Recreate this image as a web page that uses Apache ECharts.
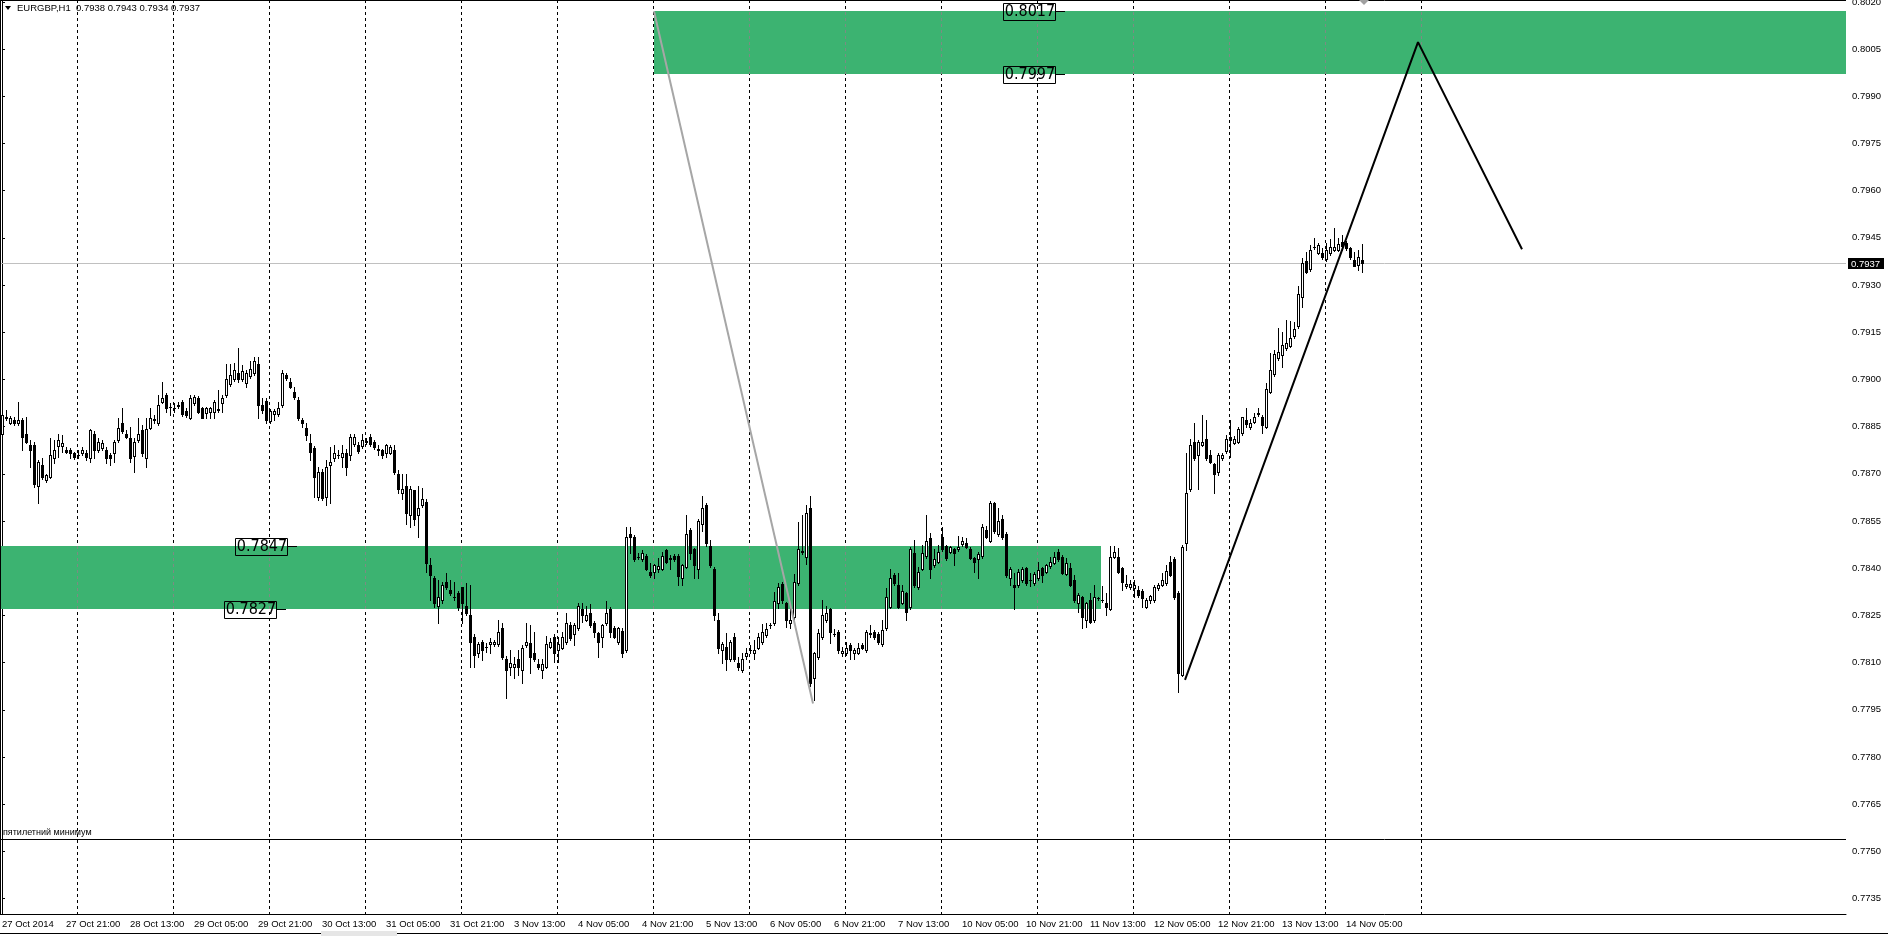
<!DOCTYPE html>
<html><head><meta charset="utf-8">
<script src="https://cdn.jsdelivr.net/npm/echarts@6/dist/echarts.min.js"></script>
<style>html,body{margin:0;padding:0;background:#fff}#c{width:1888px;height:936px}</style>
</head><body><div id="c"></div>
<script>
// ---------- data ----------
const symbolTitle = 'EURGBP,H1';
const lastQuote = '0.7938 0.7943 0.7934 0.7937';
const currentPrice = 0.7937;
const fiveYearLow = 0.7754;
const fiveYearLowText = 'пятилетний минимум';

// hourly bars, prices in pips (x 0.0001), bar 0 = 27 Oct 2014 05:00
const openPips = [
7882.8,7887.6,7886.2,7887.1,7886.0,7887.1,7882.8,7879.1,7879.1,7866.1,
7872.8,7868.0,7869.1,7874.9,7878.8,7878.8,7877.7,7877.5,7876.5,7876.0,
7876.7,7876.7,7874.9,7882.8,7877.7,7878.1,7877.7,7876.0,7876.5,7880.9,
7886.0,7882.8,7881.3,7875.6,7880.7,7883.9,7874.9,7884.7,7887.3,7886.0,
7892.9,7895.0,7891.3,7891.0,7891.6,7892.9,7890.0,7887.9,7892.4,7894.0,
7890.8,7889.2,7889.7,7889.7,7890.5,7892.4,7895.0,7898.7,7900.0,7901.9,
7900.0,7898.9,7901.1,7901.9,7904.9,7891.8,7893.0,7886.9,7889.0,7889.0,
7891.8,7901.4,7899.3,7896.1,7893.4,7887.1,7884.7,7879.9,7878.1,7862.5,
7870.6,7862.7,7872.8,7874.9,7876.0,7875.4,7876.5,7875.9,7879.6,7879.1,
7878.8,7880.5,7881.8,7880.2,7877.9,7877.5,7876.5,7876.7,7877.7,7870.1,
7863.8,7866.1,7856.9,7864.8,7856.9,7860.1,7861.0,7841.0,7836.8,7828.0,
7829.9,7835.7,7833.1,7830.9,7832.0,7833.9,7828.0,7825.1,7818.2,7812.9,
7816.6,7815.1,7815.9,7815.9,7815.9,7820.9,7811.3,7808.7,7808.7,7811.0,
7807.8,7815.6,7816.1,7812.9,7809.7,7807.8,7808.7,7815.0,7818.2,7814.0,
7814.8,7816.6,7821.9,7819.1,7820.9,7826.9,7823.7,7825.9,7822.7,7819.3,
7818.2,7822.5,7826.9,7820.9,7816.6,7820.0,7814.0,7850.9,7849.8,7843.6,
7842.8,7843.9,7838.9,7838.9,7839.9,7839.9,7845.8,7843.0,7843.9,7843.9,
7836.8,7840.5,7852.1,7846.0,7839.9,7854.0,7860.1,7847.0,7839.9,7823.7,
7814.0,7815.0,7811.0,7818.0,7810.0,7807.8,7812.1,7814.0,7812.9,7814.8,
7816.6,7818.8,7821.9,7822.7,7828.8,7835.0,7828.8,7822.7,7824.6,7835.2,
7845.5,7843.6,7859.0,7805.0,7811.9,7818.2,7823.5,7826.9,7819.2,7819.8,
7812.9,7812.9,7815.6,7812.9,7813.1,7815.6,7814.0,7819.3,7819.8,7819.1,
7815.9,7820.9,7827.8,7837.8,7834.6,7829.0,7832.0,7827.8,7844.9,7834.1,
7839.9,7843.9,7849.5,7841.0,7842.1,7850.0,7847.0,7845.2,7846.0,7846.0,
7847.7,7847.9,7846.0,7843.1,7842.8,7843.9,7852.1,7848.7,7860.8,7850.9,
7855.8,7850.9,7836.8,7834.6,7834.6,7836.2,7840.0,7836.1,7835.2,7836.8,
7840.0,7838.9,7840.7,7841.8,7845.3,7843.7,7838.2,7840.0,7836.1,7828.9,
7830.8,7823.5,7829.9,7823.5,7830.5,7830.0,7828.9,7827.0,7843.7,7843.7,
7840.0,7834.2,7834.0,7833.6,7833.1,7832.9,7827.8,7829.9,7829.9,7833.6,
7834.7,7835.2,7842.1,7842.8,7832.2,7806.1,7847.9,7865.1,7880.2,7876.0,
7879.2,7881.0,7876.0,7873.1,7870.7,7874.9,7877.1,7881.8,7879.9,7880.2,
7882.9,7887.1,7884.8,7886.6,7889.0,7888.2,7885.0,7896.1,7901.7,7906.7,
7907.8,7909.9,7910.7,7913.8,7917.0,7926.1,7937.8,7935.0,7942.0,7940.3,
7940.3,7938.2,7940.1,7941.2,7941.2,7943.8,7943.5,7941.7,7938.0,7936.4,
7938.0];
const highPips = [
7890.8,7890.3,7888.3,7888.1,7892.9,7887.9,7888.1,7880.7,7880.0,7874.5,
7874.9,7870.0,7881.3,7880.7,7882.8,7882.3,7878.6,7878.1,7877.0,7877.5,
7878.6,7877.5,7884.1,7883.7,7881.3,7880.9,7878.6,7876.7,7880.9,7887.9,
7890.8,7883.9,7885.0,7881.3,7887.9,7885.5,7887.6,7890.8,7888.7,7895.0,
7899.3,7895.6,7892.4,7892.4,7892.9,7893.5,7890.8,7895.0,7895.0,7894.8,
7891.3,7891.3,7891.3,7893.5,7896.6,7895.0,7904.9,7904.9,7905.1,7909.9,
7904.6,7903.0,7905.9,7907.2,7907.2,7894.0,7894.0,7890.5,7890.5,7892.9,
7903.0,7901.9,7900.3,7897.7,7894.3,7887.6,7886.0,7882.8,7879.0,7872.2,
7871.5,7874.4,7878.6,7879.1,7877.5,7879.1,7878.0,7882.8,7882.8,7880.2,
7882.8,7881.3,7882.8,7880.7,7879.1,7878.0,7879.6,7879.1,7879.1,7871.2,
7870.1,7869.9,7866.1,7865.0,7866.1,7865.4,7862.0,7843.1,7837.5,7836.2,
7835.7,7838.4,7836.2,7835.7,7832.8,7834.1,7835.2,7834.6,7819.0,7816.5,
7817.2,7816.3,7817.7,7817.2,7823.7,7822.7,7812.0,7814.0,7811.9,7814.0,
7815.5,7822.7,7821.9,7819.8,7811.3,7811.3,7818.4,7817.7,7819.0,7818.2,
7819.8,7825.9,7823.0,7822.5,7828.8,7828.8,7828.0,7828.5,7823.3,7819.8,
7822.4,7829.7,7827.8,7821.6,7821.4,7820.9,7853.0,7853.0,7850.5,7844.7,
7845.8,7844.5,7841.7,7841.5,7843.1,7845.2,7846.0,7844.2,7844.5,7844.5,
7841.5,7856.9,7852.8,7846.5,7855.8,7862.9,7860.8,7849.0,7840.5,7825.9,
7816.5,7819.5,7817.2,7819.3,7811.9,7812.9,7814.5,7815.6,7817.1,7819.3,
7822.2,7822.7,7822.7,7832.5,7835.2,7835.5,7829.3,7828.8,7838.1,7854.8,
7856.9,7860.1,7862.9,7813.5,7820.6,7829.9,7828.0,7827.5,7820.6,7820.3,
7815.0,7816.6,7816.1,7814.5,7816.1,7816.1,7820.3,7821.9,7820.5,7819.6,
7823.7,7833.6,7839.9,7838.5,7838.6,7834.6,7832.5,7846.8,7849.0,7840.5,
7847.4,7856.9,7851.1,7846.0,7847.4,7853.2,7847.5,7847.0,7846.5,7850.2,
7850.0,7849.5,7846.8,7843.6,7845.0,7854.0,7853.4,7861.5,7861.0,7859.0,
7856.9,7851.5,7840.5,7838.4,7839.9,7840.5,7840.5,7838.4,7838.7,7842.1,
7840.5,7841.5,7843.7,7845.3,7846.0,7844.2,7843.2,7841.6,7837.9,7832.0,
7831.3,7829.4,7832.0,7834.7,7831.0,7834.2,7832.0,7847.1,7847.1,7846.3,
7840.5,7837.9,7836.3,7836.3,7834.2,7833.4,7830.4,7831.5,7834.7,7835.2,
7838.4,7841.0,7843.9,7843.7,7832.7,7847.4,7876.5,7881.0,7886.1,7880.7,
7888.7,7887.1,7877.6,7873.6,7876.5,7876.7,7882.4,7887.1,7882.1,7885.0,
7888.2,7890.8,7887.3,7889.2,7890.8,7888.7,7899.0,7908.3,7909.4,7916.3,
7915.2,7918.9,7918.7,7918.4,7929.7,7938.5,7940.6,7942.8,7944.9,7943.3,
7941.7,7943.3,7944.6,7948.1,7944.9,7945.9,7944.1,7942.2,7940.6,7941.0,
7943.0];
const lowPips = [
7882.3,7887.0,7885.8,7885.5,7885.5,7877.5,7879.7,7872.2,7865.9,7860.8,
7868.5,7867.5,7868.6,7873.3,7875.4,7877.0,7876.5,7874.9,7874.6,7874.9,
7876.0,7874.4,7873.8,7874.9,7877.0,7877.5,7873.3,7872.8,7873.8,7880.2,
7883.1,7881.3,7873.8,7870.6,7880.2,7875.8,7872.2,7884.1,7886.0,7885.5,
7892.4,7889.7,7888.7,7889.5,7890.8,7888.5,7888.2,7887.3,7891.8,7889.2,
7887.6,7887.9,7887.9,7887.9,7889.7,7889.7,7894.5,7898.0,7899.5,7899.3,
7899.5,7897.7,7900.5,7901.4,7887.9,7889.2,7886.0,7886.0,7887.1,7888.5,
7891.3,7899.8,7897.2,7893.8,7887.1,7885.0,7880.7,7874.4,7862.7,7861.6,
7861.8,7860.1,7860.8,7874.0,7875.0,7872.2,7869.6,7874.5,7879.0,7876.7,
7878.3,7879.6,7879.0,7878.0,7875.9,7874.9,7875.4,7876.2,7870.1,7863.8,
7861.9,7854.2,7853.0,7853.7,7850.0,7859.5,7838.9,7829.9,7827.8,7822.7,
7829.0,7833.5,7831.5,7829.9,7826.7,7822.7,7825.0,7808.7,7808.7,7811.9,
7810.8,7813.5,7812.9,7815.3,7815.2,7811.0,7798.6,7806.0,7805.0,7806.0,
7803.6,7815.0,7806.8,7810.5,7808.0,7805.0,7808.2,7814.5,7810.3,7810.3,
7814.2,7816.0,7817.2,7815.6,7820.3,7823.0,7823.1,7821.4,7818.2,7811.9,
7815.0,7822.0,7818.2,7817.7,7816.0,7811.9,7813.4,7844.9,7842.3,7842.8,
7842.3,7839.4,7837.3,7836.8,7838.9,7839.4,7841.6,7839.9,7842.3,7834.6,
7834.6,7840.0,7842.8,7836.8,7836.8,7851.9,7847.0,7840.5,7823.7,7813.1,
7810.0,7807.8,7810.5,7810.5,7807.8,7807.1,7811.0,7813.1,7811.3,7814.3,
7816.0,7818.0,7821.0,7822.0,7827.2,7828.8,7821.4,7820.9,7824.0,7834.6,
7844.5,7841.5,7802.5,7798.1,7811.0,7817.5,7823.0,7816.1,7818.5,7813.1,
7812.1,7812.3,7811.0,7811.0,7812.6,7814.3,7813.5,7818.0,7817.5,7816.0,
7815.2,7820.3,7827.2,7834.6,7827.2,7828.5,7823.7,7827.0,7834.0,7833.5,
7839.4,7843.4,7836.8,7840.5,7841.6,7845.5,7842.6,7844.7,7841.0,7845.5,
7847.2,7846.3,7843.0,7838.9,7836.8,7843.4,7849.5,7848.2,7851.3,7850.4,
7849.3,7837.3,7834.6,7826.9,7834.0,7835.7,7834.7,7834.2,7834.7,7836.3,
7835.7,7838.4,7840.2,7841.3,7842.3,7838.1,7837.7,7834.2,7829.4,7826.2,
7820.9,7821.4,7822.5,7822.9,7829.9,7829.4,7825.1,7826.7,7843.2,7838.4,
7833.1,7833.7,7833.5,7831.0,7831.0,7827.8,7827.3,7828.9,7829.4,7833.1,
7834.2,7834.7,7837.4,7830.3,7800.8,7805.6,7845.8,7864.6,7874.4,7865.1,
7878.7,7874.4,7873.4,7863.8,7869.6,7874.4,7876.6,7875.3,7879.4,7879.7,
7882.4,7885.0,7884.3,7886.1,7888.5,7882.9,7884.5,7895.6,7901.2,7906.2,
7903.9,7909.4,7910.2,7913.1,7916.5,7923.1,7933.8,7934.5,7941.5,7939.8,
7938.3,7937.7,7939.6,7940.7,7940.7,7941.2,7941.2,7938.3,7935.9,7934.8,
7934.0];
const closePips = [
7888.7,7888.0,7887.9,7886.0,7887.1,7881.8,7880.2,7877.5,7866.9,7873.8,
7869.1,7869.6,7876.0,7877.7,7880.9,7879.9,7877.0,7876.7,7875.4,7876.0,
7877.7,7875.4,7883.9,7877.5,7880.2,7879.7,7874.9,7874.9,7880.2,7884.7,
7883.7,7881.8,7874.9,7880.2,7882.8,7876.5,7884.1,7887.9,7887.1,7891.8,
7894.0,7890.8,7891.1,7890.8,7891.8,7889.0,7888.7,7894.0,7894.5,7889.7,
7887.9,7890.8,7890.8,7892.9,7890.3,7894.0,7900.0,7901.4,7903.0,7900.0,
7902.8,7901.9,7903.2,7905.9,7891.8,7890.3,7887.1,7890.0,7890.0,7890.8,
7901.9,7900.3,7897.7,7894.3,7887.6,7886.0,7882.3,7877.0,7869.1,7870.6,
7862.2,7872.2,7873.8,7876.7,7876.1,7876.7,7872.2,7881.8,7881.8,7877.3,
7880.7,7880.2,7879.6,7878.6,7877.7,7875.9,7879.1,7878.6,7870.6,7865.1,
7865.1,7857.6,7865.1,7855.8,7859.0,7861.9,7841.7,7837.8,7828.8,7830.7,
7834.6,7833.9,7832.0,7830.7,7827.8,7828.8,7825.9,7816.6,7812.4,7815.9,
7814.0,7815.0,7816.6,7816.6,7819.8,7811.9,7807.6,7810.0,7809.7,7808.7,
7814.8,7816.6,7811.9,7811.0,7808.7,7809.7,7815.9,7816.6,7812.9,7815.9,
7818.2,7822.7,7817.7,7821.9,7828.0,7825.1,7825.1,7821.9,7819.8,7816.6,
7821.9,7825.9,7819.8,7818.2,7820.9,7812.9,7849.8,7849.8,7842.8,7843.5,
7844.9,7839.9,7837.8,7841.0,7840.7,7843.9,7842.1,7843.1,7842.8,7837.5,
7841.0,7850.9,7844.9,7841.0,7855.1,7859.0,7847.9,7841.0,7825.1,7814.8,
7815.9,7811.3,7816.6,7811.0,7808.7,7811.0,7812.9,7814.1,7814.0,7818.0,
7819.8,7820.6,7822.0,7829.7,7833.9,7829.9,7823.7,7823.7,7835.7,7846.0,
7845.2,7857.6,7803.4,7812.9,7819.3,7825.1,7825.9,7819.8,7819.0,7814.0,
7813.8,7814.8,7814.0,7814.0,7814.8,7814.8,7819.8,7819.0,7818.0,7816.6,
7820.4,7830.7,7836.8,7835.2,7827.8,7832.8,7826.2,7846.0,7834.6,7838.9,
7844.9,7848.7,7839.9,7842.8,7845.2,7846.0,7843.4,7846.6,7844.9,7846.8,
7848.7,7846.8,7843.4,7842.1,7844.5,7853.0,7850.0,7860.8,7851.9,7855.1,
7849.8,7837.8,7839.9,7833.9,7838.9,7839.9,7835.2,7836.2,7838.2,7839.4,
7837.9,7841.0,7842.1,7843.7,7842.8,7838.6,7841.6,7834.7,7829.9,7831.5,
7824.6,7828.9,7823.0,7830.8,7830.4,7829.9,7827.6,7843.7,7845.3,7838.9,
7835.7,7835.0,7835.0,7834.7,7831.5,7830.4,7829.9,7831.2,7834.0,7834.7,
7836.1,7839.2,7837.9,7830.8,7806.6,7846.9,7863.8,7879.2,7874.9,7880.2,
7880.2,7874.9,7873.9,7870.0,7876.0,7876.0,7881.0,7880.8,7881.0,7884.2,
7888.0,7885.9,7886.1,7888.0,7889.2,7885.5,7896.9,7903.0,7908.1,7908.8,
7911.0,7911.7,7913.1,7915.9,7927.2,7937.1,7934.3,7941.2,7942.2,7942.8,
7938.8,7941.2,7942.0,7942.0,7943.1,7942.4,7941.7,7938.8,7936.1,7938.8,
7937.0];

const timeLabelBars = [0,16,32,48,64,80,96,112,128,144,160,176,192,208,224,240,256,272,288,304,320,336];
const timeLabels = ['27 Oct 2014','27 Oct 21:00','28 Oct 13:00','29 Oct 05:00','29 Oct 21:00','30 Oct 13:00',
  '31 Oct 05:00','31 Oct 21:00','3 Nov 13:00','4 Nov 05:00','4 Nov 21:00','5 Nov 13:00','6 Nov 05:00',
  '6 Nov 21:00','7 Nov 13:00','10 Nov 05:00','10 Nov 21:00','11 Nov 13:00','12 Nov 05:00','12 Nov 21:00',
  '13 Nov 13:00','14 Nov 05:00'];
const priceTicks = [0.7735,0.7750,0.7765,0.7780,0.7795,0.7810,0.7825,0.7840,0.7855,0.7870,
  0.7885,0.7900,0.7915,0.7930,0.7945,0.7960,0.7975,0.7990,0.8005,0.8020];
const dayStartBars = [19,43,67,91,115,139,163,187,211,235,259,283,307,331,355];

// zones: [fromBar, toBar, low, high]
const zoneFrom = [-0.5, 163];
const zoneTo   = [274.75, 461];
const zoneLow  = [0.7827, 0.7997];
const zoneHigh = [0.7847, 0.8017];
// price tags: anchor bar and price
const tagBars   = [73.75, 71, 265.75, 265.75];
const tagPrices = [0.7847, 0.7827, 0.8017, 0.7997];
// drawn lines
const grayLine = [[163, 0.8017], [202.75, 0.7797]];
const zigzagLine = [[295.75, 0.78045], [354, 0.80072], [380, 0.79414]];

// ---------- chart ----------
const FONT = 'Liberation Sans, Arial, sans-serif';
const TAGFONT = 'DejaVu Sans Condensed, DejaVu Sans, sans-serif';
const chart = echarts.init(document.getElementById('c'), null, {renderer:'canvas', width:1888, height:936});

const candles = openPips.map((o, i) => [i, o/1e4, highPips[i]/1e4, lowPips[i]/1e4, closePips[i]/1e4]);
const zones = zoneFrom.map((f, k) => [f, zoneTo[k], zoneLow[k], zoneHigh[k]]);
const tags = tagBars.map((b, k) => [b, tagPrices[k]]);

function renderCandle(params, api) {
  const i = api.value(0), o = api.value(1), h = api.value(2), l = api.value(3), c = api.value(4);
  const po = api.coord([i, o]), pc = api.coord([i, c]), ph = api.coord([i, h]), pl = api.coord([i, l]);
  const x = Math.round(po[0]);
  const yo = Math.round(po[1]), yc = Math.round(pc[1]), yh = Math.round(ph[1]), yl = Math.round(pl[1]);
  const top = Math.min(yo, yc), bot = Math.max(yo, yc);
  const kids = [{type:'rect', shape:{x:x, y:yh, width:1, height:Math.max(1, yl - yh + 1)}, style:{fill:'#000'}}];
  kids.push({type:'rect', shape:{x:x-1, y:top, width:3, height:Math.max(1, bot - top + 1)}, style:{fill:'#000'}});
  if (c > o && bot - top >= 2) {
    kids.push({type:'rect', shape:{x:x, y:top+1, width:1, height:bot - top - 1}, style:{fill:'#fff'}});
  }
  return {type:'group', children:kids};
}

function renderZone(params, api) {
  const p0 = api.coord([api.value(0), api.value(3)]);
  const p1 = api.coord([api.value(1), api.value(2)]);
  const x0 = Math.round(p0[0]), y0 = Math.round(p0[1]);
  return {type:'rect', shape:{x:x0, y:y0, width:Math.round(p1[0]) - x0, height:Math.round(p1[1]) - y0},
    style:{fill:'#3cb371'}};
}

function renderDayLine(params, api) {
  const cs = params.coordSys;
  const x = Math.round(api.coord([api.value(0), 0.78])[0]) - 0.5;
  return {type:'line', shape:{x1:x, y1:cs.y, x2:x, y2:cs.y + cs.height},
    style:{stroke:'#000', lineWidth:1, lineDash:[3,3]}};
}

// day separators seen through the zones (lighter)
function renderDayLineInZones(params, api) {
  const cs = params.coordSys;
  const b = api.value(0);
  const x = Math.round(api.coord([b, 0.78])[0]) - 0.5;
  const kids = [];
  zones.forEach(z => {
    if (b > z[0] && b < z[1]) {
      const y0 = Math.round(api.coord([b, z[3]])[1]);
      const y1 = Math.round(api.coord([b, z[2]])[1]);
      kids.push({type:'line', shape:{x1:x, y1:y0, x2:x, y2:y1},
        style:{stroke:'#7c8c82', lineWidth:1, lineDash:[3,3], lineDashOffset:(y0 - cs.y) % 6}});
    }
  });
  return {type:'group', children:kids};
}

function renderHLine(params, api) {
  const cs = params.coordSys;
  const y = Math.round(api.coord([0, api.value(0)])[1]) + 0.5;
  const isLow = params.dataIndex === 1;
  const kids = [{type:'line', shape:{x1:cs.x, y1:y, x2:cs.x + cs.width, y2:y},
    style:{stroke: isLow ? '#000' : '#c0c0c0', lineWidth:1}}];
  if (isLow) {
    kids.push({type:'text', x:cs.x + 3, y:y - 2,
      style:{text:fiveYearLowText, font:'9px ' + FONT, fill:'#000', textVerticalAlign:'bottom', textAlign:'left'}});
  }
  return {type:'group', children:kids};
}

function renderTag(params, api) {
  const p = api.coord([api.value(0), api.value(1)]);
  const xe = Math.round(p[0]), y = Math.round(p[1]);
  const txt = api.value(1).toFixed(4);
  const bw = 52, bh = 17, bx = xe - 10 - bw;
  return {type:'group', children:[
    {type:'line', shape:{x1:xe - 10, y1:y + 0.5, x2:xe, y2:y + 0.5}, style:{stroke:'#000', lineWidth:1}},
    {type:'rect', shape:{x:bx + 0.5, y:y - 8 + 0.5, width:bw, height:bh}, style:{fill:null, stroke:'#000', lineWidth:1}},
    {type:'text', x:bx + bw/2 + 1, y:y + 1,
      style:{text:txt, font:'16px ' + TAGFONT, fill:'#000', textAlign:'center', textVerticalAlign:'middle'}}
  ]};
}

function renderPriceBox(params, api) {
  const cs = params.coordSys;
  const y = Math.round(api.coord([0, api.value(0)])[1]);
  const x = cs.x + cs.width;
  return {type:'group', children:[
    {type:'rect', shape:{x:x + 2, y:y - 5, width:36, height:11}, style:{fill:'#000'}},
    {type:'text', x:x + 5, y:y + 1,
      style:{text:api.value(0).toFixed(4), font:'9.5px ' + FONT, fill:'#fff', textVerticalAlign:'middle'}}
  ]};
}

const option = {
  animation: false,
  backgroundColor: '#fff',
  grid: {left:0, right:42, top:0, bottom:22, containLabel:false, outerBoundsMode:'none'},
  xAxis: {
    type:'value', min:-0.5, max:461,
    axisLine:{show:true, lineStyle:{color:'#000', width:1}},
    axisTick:{show:false},
    splitLine:{show:false},
    axisLabel:{
      customValues: timeLabelBars,
      formatter: v => { const k = timeLabelBars.indexOf(Math.round(v)); return k >= 0 ? timeLabels[k] : ''; },
      align:'left', margin:5, color:'#000', fontSize:9.5, fontFamily:FONT
    }
  },
  yAxis: {
    type:'value', position:'right', min:0.77301, max:0.80206,
    axisLine:{show:true, lineStyle:{color:'#000', width:1}},
    axisTick:{show:true, inside:false, length:3, lineStyle:{color:'#000'}, customValues: priceTicks},
    splitLine:{show:false},
    axisLabel:{customValues: priceTicks, formatter: v => v.toFixed(4), margin:6, color:'#000', fontSize:9.5, fontFamily:FONT}
  },
  series: [
    {type:'custom', name:'days', renderItem:renderDayLine, data:dayStartBars.map(b => [b]), encode:{x:0}, z:1, silent:true},
    {type:'custom', name:'zones', renderItem:renderZone, data:zones, encode:{x:[0,1], y:[2,3]}, z:2, silent:true},
    {type:'custom', name:'daysInZones', renderItem:renderDayLineInZones, data:dayStartBars.map(b => [b]), encode:{x:0}, z:3, silent:true},
    {type:'custom', name:'hlines', renderItem:renderHLine, data:[[currentPrice],[fiveYearLow]], encode:{y:0}, z:3, silent:true},
    {type:'custom', name:'candles', renderItem:renderCandle, data:candles, encode:{x:0, y:[1,2,3,4]}, z:5, silent:true},
    {type:'line', name:'gray', data:grayLine, showSymbol:false, symbol:'none', z:6, silent:true,
      lineStyle:{color:'#a6a6a6', width:2}},
    {type:'line', name:'zigzag', data:zigzagLine, showSymbol:false, symbol:'none', z:6, silent:true,
      lineStyle:{color:'#000', width:2}},
    {type:'custom', name:'tags', renderItem:renderTag, data:tags, encode:{x:0, y:1}, z:7, silent:true},
    {type:'custom', name:'pricebox', renderItem:renderPriceBox, data:[[currentPrice]], encode:{y:0}, z:8, silent:true, clip:false}
  ],
  graphic: [
    {type:'line', shape:{x1:0.5, y1:0, x2:0.5, y2:914}, style:{stroke:'#000', lineWidth:1}, z:100},
    {type:'line', shape:{x1:0, y1:0.5, x2:1846, y2:0.5}, style:{stroke:'#000', lineWidth:1}, z:100},
    {type:'polygon', shape:{points:[[5,6],[11,6],[8,10]]}, style:{fill:'#000'}, z:100},
    {type:'text', x:17, y:8, style:{text:symbolTitle, font:'9.5px ' + FONT, fill:'#000', textVerticalAlign:'middle'}, z:100},
    {type:'text', x:76, y:8, style:{text:lastQuote, font:'9.5px ' + FONT, fill:'#000', textVerticalAlign:'middle'}, z:100},
    {type:'polygon', shape:{points:[[1359,0],[1369,0],[1364,5]]}, style:{fill:'#a0a0a0'}, z:100},
    {type:'line', shape:{x1:0, y1:933.5, x2:1888, y2:933.5}, style:{stroke:'#000', lineWidth:1}, z:100},
    {type:'rect', shape:{x:321, y:931, width:76, height:5}, style:{fill:'#e6e6e6'}, z:101}
  ]
};
chart.setOption(option);
</script></body></html>
